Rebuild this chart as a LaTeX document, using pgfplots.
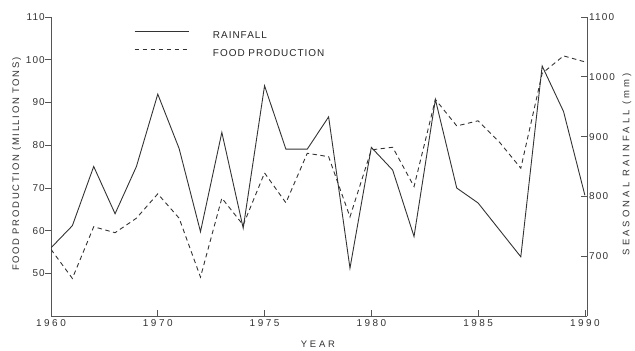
\documentclass[border=0pt]{standalone}
\usepackage{pgfplots}
\pgfplotsset{compat=1.18}
\usepackage{fontspec}
\setmainfont{Liberation Sans}
\newfontfamily\tickfont[LetterSpace=12]{Liberation Sans}
\newfontfamily\xtickfont[LetterSpace=25]{Liberation Sans}
\newfontfamily\ylabfont[LetterSpace=18]{Liberation Sans}
\newfontfamily\rlabfont[LetterSpace=33]{Liberation Sans}
\newfontfamily\legfont[LetterSpace=10]{Liberation Sans}
\newfontfamily\yearfont[LetterSpace=30]{Liberation Sans}
\definecolor{ink}{HTML}{333333}
\definecolor{axisink}{HTML}{555555}

\pgfplotstableread{
year food rain
1965 55.6 714
1966 48.8 751
1967 60.9 850
1968 59.5 771
1969 62.9 850
1970 68.6 971
1971 62.9 880
1972 49.1 741
1973 67.6 907
1974 61.3 747
1975 73.5 985
1976 66.5 879
1977 78.1 879
1978 77.3 933
1979 63.2 680
1980 78.9 882
1981 79.5 844
1982 70.3 733
1983 90.7 962
1984 84.5 814
1985 85.7 789
1986 80.7 744
1987 74.6 699
1988 96.8 1018
1989 100.9 942
1990 99.5 802
}\datatable

\pgfplotsset{
  common/.style={
    at={(51bp,34bp)}, anchor=south west,
    scale only axis, width=536bp, height=299bp,
    xmin=1965, xmax=1990.1,
    axis line style={axisink, line width=0.8pt},
    tick style={axisink, line width=0.7pt},
    major tick length=6bp,
    tick align=inside,
    /pgf/number format/assume math mode=true,
    /pgf/number format/1000 sep={},
    scaled y ticks=false,
    tick label style={font=\tickfont\fontsize{10}{10}\selectfont, text=black!80},
  }
}

\begin{document}
\begin{tikzpicture}[x=1bp,y=1bp]
\useasboundingbox (0,0) rectangle (635,350);
\begin{axis}[
  common,
  ymin=40, ymax=110,
  axis x line*=bottom, axis y line*=left,
  xtick={1965,1970,1975,1980,1985,1990},
  xticklabels={1960,1970,1975,1980,1985,1990},
  xticklabel style={font=\xtickfont\fontsize{10}{10}\selectfont},
  ytick={50,60,70,80,90,100,110},
  y tick style={xshift=-6bp},
  yticklabel style={inner sep=1bp, xshift=-5bp},
  xlabel={YEAR},
  xlabel style={font=\yearfont\fontsize{9.5}{10}\selectfont, text=black!80, at={(axis description cs:0.498,-0.094)}, anchor=center},
  ylabel={FOOD PRODUCTION (MILLION TONS)},
  ylabel style={font=\ylabfont\fontsize{9.5}{10}\selectfont, text=black!80, at={(axis description cs:-0.064,0.508)}, anchor=center},
  legend image code/.code={\draw[#1] (0bp,3.5bp) -- (54bp,3.5bp);},
  legend style={at={(rel axis cs:0.149,0.96)}, anchor=north west, draw=none, fill=none,
    font=\legfont\fontsize{10}{10}\selectfont, text=black!85,
    nodes={inner sep=0pt, text height=7bp, text depth=0pt},
    column sep=24bp, row sep=10bp},
  legend cell align=left,
]
\addlegendimage{ink, line width=0.9pt}
\addlegendentry{RAINFALL}
\addplot[ink, line width=0.9pt, dash pattern=on 4.5bp off 3.5bp] table[x=year, y=food] {\datatable};
\addlegendentry{FOOD PRODUCTION}
\end{axis}
\begin{axis}[
  common,
  ymin=600, ymax=1100,
  axis x line=none, axis y line*=right,
  ytick={700,800,900,1000,1100},
  yticklabel style={inner sep=1bp, xshift=1bp},
  ylabel={SEASONAL RAINFALL (mm)},
  ylabel style={font=\rlabfont\fontsize{9.5}{10}\selectfont, text=black!80, at={(axis description cs:1.0746,0.508)}, anchor=center, rotate=0},
]
\addplot[ink, line width=0.9pt] table[x=year, y=rain] {\datatable};
\end{axis}
\end{tikzpicture}
\end{document}
